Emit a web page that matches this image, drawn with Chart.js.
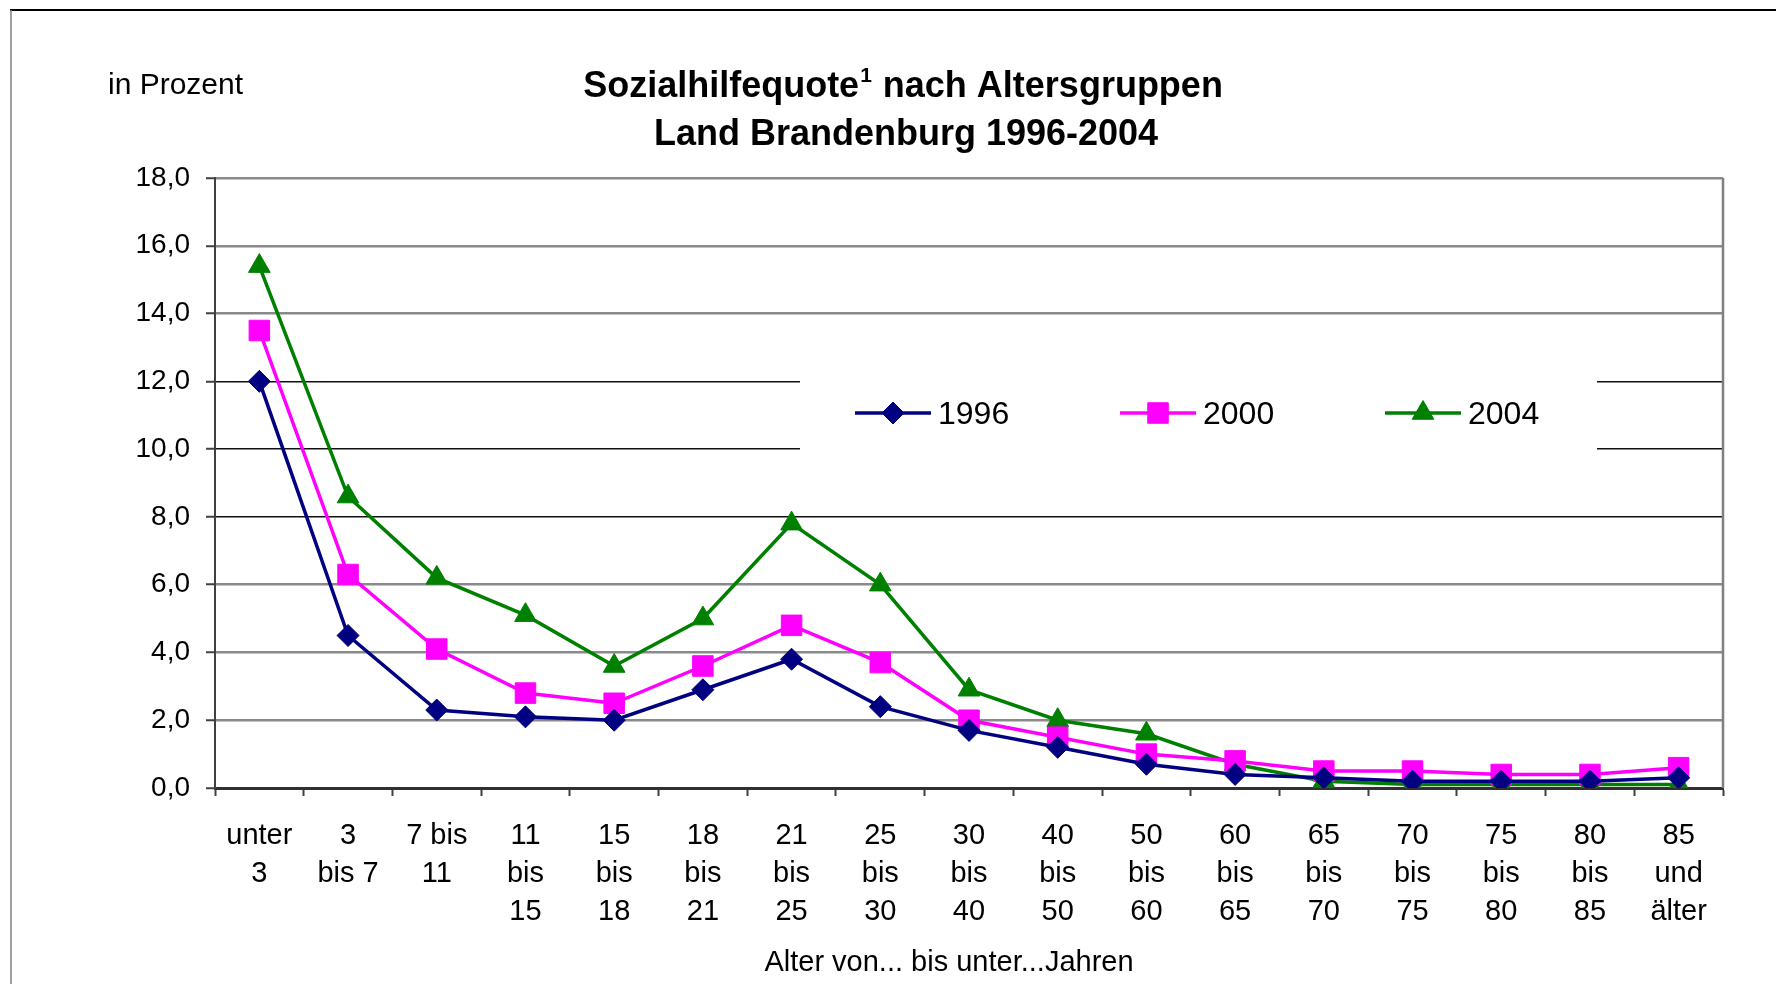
<!DOCTYPE html>
<html>
<head>
<meta charset="utf-8">
<title>Sozialhilfequote nach Altersgruppen</title>
<script src="https://cdn.jsdelivr.net/npm/chart.js@4.4.1/dist/chart.umd.min.js"></script>
<style>
  html, body { margin: 0; padding: 0; background: #fff; }
  canvas { display: block; }
</style>
</head>
<body>
<canvas id="chart" width="1776" height="984"></canvas>
<script>
const FONT = "'Liberation Sans', Arial, Helvetica, sans-serif";

// age groups (x axis), one line per array entry
const ageGroups = [
  ["unter", "3"], ["3", "bis 7"], ["7 bis", "11"], ["11", "bis", "15"],
  ["15", "bis", "18"], ["18", "bis", "21"], ["21", "bis", "25"], ["25", "bis", "30"],
  ["30", "bis", "40"], ["40", "bis", "50"], ["50", "bis", "60"], ["60", "bis", "65"],
  ["65", "bis", "70"], ["70", "bis", "75"], ["75", "bis", "80"], ["80", "bis", "85"],
  ["85", "und", "älter"]
];

// Sozialhilfequote in Prozent
const quote1996 = [12.0, 4.5, 2.3, 2.1, 2.0, 2.9, 3.8, 2.4, 1.7, 1.2, 0.7, 0.4, 0.3, 0.2, 0.2, 0.2, 0.3];
const quote2000 = [13.5, 6.3, 4.1, 2.8, 2.5, 3.6, 4.8, 3.7, 2.0, 1.5, 1.0, 0.8, 0.5, 0.5, 0.4, 0.4, 0.6];
const quote2004 = [15.4, 8.6, 6.2, 5.1, 3.6, 5.0, 7.8, 6.0, 2.9, 2.0, 1.6, 0.7, 0.2, 0.1, 0.1, 0.1, 0.1];

const seriesNames = ["1996", "2000", "2004"];
const yMin = 0, yMax = 18, yStep = 2;

// white page plus the frame lines of the original figure
const framePlugin = {
  id: "frame",
  beforeDraw(chart) {
    const ctx = chart.ctx;
    ctx.save();
    ctx.fillStyle = "#fff";
    ctx.fillRect(0, 0, chart.width, chart.height);
    ctx.strokeStyle = "#000";
    ctx.lineWidth = 2;
    ctx.beginPath();
    ctx.moveTo(10, 10);
    ctx.lineTo(chart.width, 10);
    ctx.stroke();
    ctx.strokeStyle = "#808080";
    ctx.lineWidth = 1.5;
    ctx.beginPath();
    ctx.moveTo(11, 10);
    ctx.lineTo(11, chart.height);
    ctx.stroke();
    ctx.restore();
  },
  afterDraw(chart) {
    // right border of the plot area
    const a = chart.chartArea, ctx = chart.ctx;
    ctx.save();
    ctx.strokeStyle = "#808080";
    ctx.lineWidth = 2.5;
    ctx.beginPath();
    ctx.moveTo(a.right, a.top);
    ctx.lineTo(a.right, a.bottom);
    ctx.stroke();
    ctx.restore();
  }
};

// legend sits inside the plot on a white box
const legendPlugin = {
  id: "boxLegend",
  beforeDatasetsDraw(chart) {
    const ctx = chart.ctx;
    ctx.save();
    ctx.fillStyle = "#fff";
    ctx.fillRect(800, 360, 797, 108);
    chart.data.datasets.forEach((ds, i) => {
      const x = 855 + i * 265, y = 413;
      ctx.strokeStyle = ds.borderColor;
      ctx.fillStyle = ds.backgroundColor;
      ctx.lineWidth = 3.5;
      ctx.beginPath();
      ctx.moveTo(x, y);
      ctx.lineTo(x + 76, y);
      ctx.stroke();
      ctx.lineWidth = 1;
      Chart.helpers.drawPoint(ctx, {
        pointStyle: ds.pointStyle, radius: ds.pointRadius, rotation: 0, borderWidth: 1
      }, x + 38, y);
      ctx.fillStyle = "#000";
      ctx.font = "32px " + FONT;
      ctx.textAlign = "left";
      ctx.textBaseline = "middle";
      ctx.fillText(ds.label, x + 83, y + 2);
    });
    ctx.restore();
  }
};

// titles and axis captions
const textPlugin = {
  id: "texts",
  afterDraw(chart) {
    const ctx = chart.ctx;
    ctx.save();
    ctx.fillStyle = "#000";
    ctx.textBaseline = "alphabetic";
    ctx.textAlign = "left";

    ctx.font = "30px " + FONT;
    ctx.fillText("in Prozent", 108, 94);

    const p1 = "Sozialhilfequote", sup = "1", p3 = " nach Altersgruppen";
    ctx.font = "bold 36px " + FONT;
    const w1 = ctx.measureText(p1).width, w3 = ctx.measureText(p3).width;
    ctx.font = "bold 21px " + FONT;
    const w2 = ctx.measureText(sup).width + 2;
    let x = 903 - (w1 + w2 + w3) / 2;
    ctx.font = "bold 36px " + FONT;
    ctx.fillText(p1, x, 97);
    ctx.font = "bold 21px " + FONT;
    ctx.fillText(sup, x + w1 + 1, 82);
    ctx.font = "bold 36px " + FONT;
    ctx.fillText(p3, x + w1 + w2, 97);

    ctx.textAlign = "center";
    ctx.fillText("Land Brandenburg 1996-2004", 906, 145);

    ctx.font = "29px " + FONT;
    ctx.fillText("Alter von... bis unter...Jahren", 949, 971);
    ctx.restore();
  }
};

const darkGrid = [8, 10, 12];

new Chart(document.getElementById("chart"), {
  type: "line",
  data: {
    labels: ageGroups,
    datasets: [
      {
        label: seriesNames[0],
        data: quote1996,
        borderColor: "#000080",
        backgroundColor: "#000080",
        borderWidth: 3.5,
        pointStyle: "rectRot",
        pointRadius: 11,
        pointBorderWidth: 1,
        tension: 0
      },
      {
        label: seriesNames[1],
        data: quote2000,
        borderColor: "#ff00ff",
        backgroundColor: "#ff00ff",
        borderWidth: 3.5,
        pointStyle: "rect",
        pointRadius: 14.5,
        pointBorderWidth: 1,
        tension: 0
      },
      {
        label: seriesNames[2],
        data: quote2004,
        borderColor: "#008000",
        backgroundColor: "#008000",
        borderWidth: 3.5,
        pointStyle: "triangle",
        pointRadius: 12.5,
        pointBorderWidth: 1,
        tension: 0
      }
    ]
  },
  options: {
    responsive: false,
    animation: false,
    devicePixelRatio: 1,
    layout: { padding: { top: 178, right: 53, left: 0, bottom: 0 } },
    plugins: {
      legend: { display: false },
      title: { display: false },
      tooltip: { enabled: false }
    },
    scales: {
      x: {
        offset: true,
        grid: {
          offset: true,
          drawOnChartArea: false,
          tickLength: 8,
          tickColor: "#404040",
          tickWidth: 2
        },
        border: { color: "#303030", width: 3 },
        ticks: {
          autoSkip: false,
          maxRotation: 0,
          padding: 21,
          color: "#000",
          font: { family: FONT, size: 29, lineHeight: "38px" }
        },
        afterFit(scale) { scale.height = 196; }
      },
      y: {
        min: yMin,
        max: yMax,
        ticks: {
          stepSize: yStep,
          padding: 16,
          color: "#000",
          font: { family: FONT, size: 28 },
          callback: (v) => v.toFixed(1).replace(".", ",")
        },
        grid: {
          color: (c) => darkGrid.includes(c.tick.value) ? "#111" : "#8a8a8a",
          lineWidth: (c) => darkGrid.includes(c.tick.value) ? 1.5 : 2.5,
          tickLength: 9,
          tickColor: "#404040",
          tickWidth: 2
        },
        border: { color: "#404040", width: 2 },
        afterFit(scale) { scale.width = 215; }
      }
    }
  },
  plugins: [framePlugin, legendPlugin, textPlugin]
});
</script>
</body>
</html>
